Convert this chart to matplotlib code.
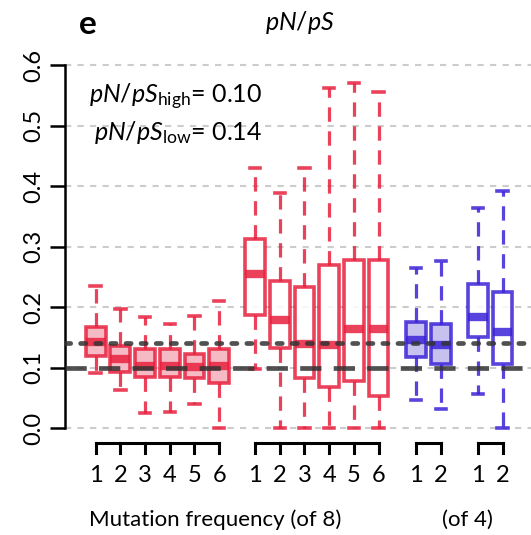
import matplotlib
matplotlib.use("Agg")
from matplotlib import pyplot as plt

plt.rcParams['font.family'] = ['Lato', 'DejaVu Sans']
plt.rcParams['mathtext.fontset'] = 'custom'
plt.rcParams['mathtext.it'] = 'Lato:italic'
plt.rcParams['mathtext.rm'] = 'Lato'

# box statistics: (whislo, q1, med, q3, whishi)
high_lo = [0.091, 0.062, 0.025, 0.027, 0.039, 0.000]
high_q1 = [0.119, 0.093, 0.084, 0.084, 0.083, 0.074]
high_med = [0.142, 0.114, 0.103, 0.102, 0.101, 0.102]
high_q3 = [0.167, 0.135, 0.130, 0.130, 0.123, 0.130]
high_hi = [0.234, 0.196, 0.183, 0.172, 0.185, 0.210]

low_lo = [0.097, 0.000, 0.000, 0.000, 0.000, 0.000]
low_q1 = [0.187, 0.132, 0.082, 0.067, 0.077, 0.053]
low_med = [0.254, 0.178, 0.139, 0.138, 0.164, 0.164]
low_q3 = [0.313, 0.243, 0.233, 0.270, 0.277, 0.277]
low_hi = [0.429, 0.389, 0.429, 0.562, 0.571, 0.556]

blue_high_lo = [0.047, 0.031]
blue_high_q1 = [0.117, 0.105]
blue_high_med = [0.145, 0.138]
blue_high_q3 = [0.176, 0.172]
blue_high_hi = [0.265, 0.276]

blue_low_lo = [0.057, 0.000]
blue_low_q1 = [0.150, 0.105]
blue_low_med = [0.184, 0.158]
blue_low_q3 = [0.238, 0.224]
blue_low_hi = [0.363, 0.392]

ratio_high = 0.10
ratio_low = 0.14

labels8 = ['1', '2', '3', '4', '5', '6']
labels4 = ['1', '2']

red = '#e8213f'
red_fill = '#f5aebb'
blue = '#3b22d6'
blue_fill = '#bdb6ee'


def stats(lo, q1, med, q3, hi):
    return [dict(whislo=a, q1=b, med=c, q3=d, whishi=e)
            for a, b, c, d, e in zip(lo, q1, med, q3, hi)]


fig = plt.figure(figsize=(5.31, 5.35), dpi=100)
ax = fig.add_axes([65 / 531, 0.2, 1 - 65 / 531, 0.6785])
ax.set_xlim(-0.24, 18.62)
ax.set_ylim(0, 0.6)

for v in [0, 0.1, 0.2, 0.3, 0.4, 0.5, 0.6]:
    ax.axhline(v, color='#cccccc', lw=1.5, dashes=(3, 3), zorder=0,
               clip_on=False)

pos1 = [1, 2, 3, 4, 5, 6]
pos2 = [7.45, 8.45, 9.45, 10.45, 11.45, 12.45]
pos3 = [13.97, 14.97]
pos4 = [16.47, 17.47]

groups = [
    (stats(high_lo, high_q1, high_med, high_q3, high_hi), pos1, red, red_fill),
    (stats(low_lo, low_q1, low_med, low_q3, low_hi), pos2, red, 'white'),
    (stats(blue_high_lo, blue_high_q1, blue_high_med, blue_high_q3,
           blue_high_hi), pos3, blue, blue_fill),
    (stats(blue_low_lo, blue_low_q1, blue_low_med, blue_low_q3,
           blue_low_hi), pos4, blue, 'white'),
]

for st, pos, col, fill in groups:
    ax.bxp(st, positions=pos, widths=0.8, showfliers=False,
           patch_artist=True, capwidths=0.42,
           boxprops=dict(facecolor=fill, edgecolor=col, lw=2.6, alpha=0.85),
           medianprops=dict(color=col, lw=6, alpha=0.85, solid_capstyle='butt'),
           whiskerprops=dict(color=col, lw=2.3, dashes=(4.5, 3), alpha=0.85),
           capprops=dict(color=col, lw=2.6, alpha=0.85),
           manage_ticks=False)

for art in ax.get_children():
    try:
        art.set_clip_on(False)
    except Exception:
        pass

ax.axhline(ratio_low, color='#333333', lw=3.4, dashes=(1.1, 2.1),
           dash_capstyle='round', alpha=0.85, zorder=5)
ax.axhline(ratio_high, color='#333333', lw=3.4, dashes=(4.5, 2.6),
           alpha=0.85, zorder=5)

# axis styling, R style
for s in ['top', 'right', 'bottom']:
    ax.spines[s].set_visible(False)
ax.spines['left'].set_linewidth(1.8)
ax.set_xticks([])
ax.set_yticks([0, 0.1, 0.2, 0.3, 0.4, 0.5, 0.6])
ax.set_yticklabels(['0.0', '0.1', '0.2', '0.3', '0.4', '0.5', '0.6'],
                   rotation=90, va='center', fontsize=17)
ax.tick_params(axis='y', length=11, width=1.8, pad=4)

# brackets under groups
for pos, labs in [(pos1, labels8), (pos2, labels8), (pos3, labels4),
                  (pos4, labels4)]:
    ax.plot([pos[0], pos[-1]], [-0.024, -0.024], color='black', lw=2.2,
            clip_on=False, solid_capstyle='projecting')
    for p, l in zip(pos, labs):
        ax.plot([p, p], [-0.024, -0.042], color='black', lw=2.2,
                clip_on=False)
        ax.text(p, -0.078, l, ha='center', va='center', fontsize=17)

fig.text(215 / 531, 1 - 520 / 535, 'Mutation frequency (of 8)',
         ha='center', va='center', fontsize=16)
fig.text(467 / 531, 1 - 520 / 535, '(of 4)', ha='center', va='center',
         fontsize=16)

fig.text(88 / 531, 1 - 24 / 535, 'e', ha='center', va='center',
         fontsize=24, fontweight='bold')
fig.text(300 / 531, 1 - 22 / 535, '$\\mathit{pN/pS}$', ha='center',
         va='center', fontsize=18)

fig.text(262 / 531, 1 - 97 / 535,
         '$\\mathit{pN/pS}_{\\mathrm{high}}$= %.2f' % ratio_high,
         ha='right', va='center', fontsize=18)
fig.text(262 / 531, 1 - 133 / 535,
         '$\\mathit{pN/pS}_{\\mathrm{low}}$= %.2f' % ratio_low,
         ha='right', va='center', fontsize=18)

fig.savefig('out.png', dpi=100)
